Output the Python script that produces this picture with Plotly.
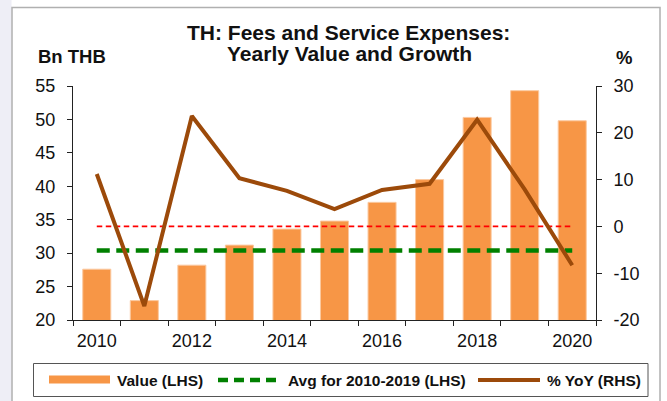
import plotly.graph_objects as go

# ── Data ─────────────────────────────────────────────
YEARS = [2010, 2011, 2012, 2013, 2014, 2015, 2016, 2017, 2018, 2019, 2020]
VALUE_BN = [27.6, 22.9, 28.2, 31.2, 33.6, 34.8, 37.6, 41.0, 50.3, 54.3, 49.8]
YOY_PCT = [11.2, -17.0, 23.6, 10.3, 7.6, 3.7, 7.8, 9.1, 22.8, 7.9, -8.3]
AVG_LEVEL = 30.4          # "Avg for 2010-2019" line as drawn (LHS)
ZERO_LEVEL = 0            # reference line on the RHS
X_LABELS = [2010, 2012, 2014, 2016, 2018, 2020]
Y2_TICKS = [-20, -10, 0, 10, 20, 30]
Y2_TEXT = ["-20", "-10", "0", "10", "20", "30"]

BAR_COLOR = "#F79646"
BAR_EDGE = "#FBC9A0"
LINE_COLOR = "#9C4A0A"
AVG_COLOR = "#008000"
ZERO_COLOR = "#FF0000"
AXIS_COLOR = "#222222"
FONT = "Liberation Sans, Arial, sans-serif"

W, H = 667, 401
L, R, T, B = 73, 71, 86, 81


def px(x):
    """pixel x -> paper fraction"""
    return (x - L) / (W - L - R)


def py(y):
    """pixel y (from top) -> paper fraction"""
    return (H - B - y) / (H - T - B)


fig = go.Figure()

fig.add_trace(go.Bar(
    x=YEARS, y=VALUE_BN, name="Value (LHS)",
    marker=dict(color=BAR_COLOR, line=dict(color=BAR_EDGE, width=1)),
    width=0.59, yaxis="y",
))
fig.add_trace(go.Scatter(
    x=[YEARS[0], YEARS[-1]], y=[AVG_LEVEL, AVG_LEVEL],
    mode="lines", name="Avg for 2010-2019 (LHS)",
    line=dict(color=AVG_COLOR, width=4.5, dash="13px,6.5px"), yaxis="y",
))
fig.add_trace(go.Scatter(
    x=[YEARS[0], YEARS[-1]], y=[ZERO_LEVEL, ZERO_LEVEL],
    mode="lines", showlegend=False,
    line=dict(color=ZERO_COLOR, width=1.6, dash="5.5px,3.5px"), yaxis="y2",
))
fig.add_trace(go.Scatter(
    x=YEARS, y=YOY_PCT, mode="lines", name="% YoY (RHS)",
    line=dict(color=LINE_COLOR, width=4), yaxis="y2",
))

# ── Frame, background stripe and hand-drawn legend ───
shapes = [
    dict(type="rect", xref="paper", yref="paper",
         x0=px(0), x1=px(11.5), y0=py(H + 5), y1=py(-5),
         fillcolor="#EEEEF6", line=dict(width=0), layer="below"),
    dict(type="rect", xref="paper", yref="paper",
         x0=px(12), x1=px(660), y0=py(H + 5), y1=py(7.5),
         fillcolor="rgba(0,0,0,0)", line=dict(color="#B0B0B0", width=1.5)),
    dict(type="rect", xref="paper", yref="paper",
         x0=px(33.5), x1=px(648), y0=py(396.5), y1=py(363.5),
         fillcolor="white", line=dict(color="#555555", width=1)),
    dict(type="rect", xref="paper", yref="paper",
         x0=px(49), x1=px(110), y0=py(383.5), y1=py(375.5),
         fillcolor=BAR_COLOR, line=dict(width=0)),
    dict(type="line", xref="paper", yref="paper",
         x0=px(218), x1=px(282), y0=py(380), y1=py(380),
         line=dict(color=AVG_COLOR, width=4.5, dash="10px,6px")),
    dict(type="line", xref="paper", yref="paper",
         x0=px(478), x1=px(540), y0=py(380), y1=py(380),
         line=dict(color=LINE_COLOR, width=4)),
]

legend_font = dict(family=FONT, size=15.5, color="#111111")
title_font = dict(family=FONT, size=21, color="#111111")
annotations = [
    dict(text="<b>Value (LHS)</b>", x=px(115), y=py(380),
         xanchor="left", yanchor="middle", font=legend_font),
    dict(text="<b>Avg for 2010-2019 (LHS)</b>", x=px(286), y=py(380),
         xanchor="left", yanchor="middle", font=legend_font),
    dict(text="<b>% YoY (RHS)</b>", x=px(545), y=py(380),
         xanchor="left", yanchor="middle", font=legend_font),
    dict(text="<b>TH: Fees and Service Expenses:</b>",
         x=px(348), y=py(33), xanchor="center", yanchor="middle", font=title_font),
    dict(text="<b>Yearly Value and Growth</b>",
         x=px(349), y=py(53), xanchor="center", yanchor="middle", font=title_font),
    dict(text="<b>Bn THB</b>", x=px(36), y=py(56), xanchor="left", yanchor="middle",
         font=dict(family=FONT, size=18.5, color="#111111")),
    dict(text="<b>%</b>", x=px(614), y=py(57), xanchor="left", yanchor="middle",
         font=dict(family=FONT, size=18.5, color="#111111")),
]
for a in annotations:
    a.update(xref="paper", yref="paper", showarrow=False)

fig.update_layout(
    width=W, height=H,
    margin=dict(l=L, r=R, t=T, b=B),
    paper_bgcolor="white",
    plot_bgcolor="white",
    font=dict(family=FONT, size=18, color="#111111"),
    showlegend=False,
    bargap=0.41,
    shapes=shapes,
    annotations=annotations,
    xaxis=dict(
        range=[2009.5, 2020.5],
        tickvals=X_LABELS, ticks="", showgrid=False, zeroline=False,
        showline=True, linecolor=AXIS_COLOR, linewidth=1,
        minor=dict(tickmode="linear", tick0=2009.5, dtick=1,
                   ticks="outside", ticklen=5, tickcolor=AXIS_COLOR, showgrid=False),
        tickfont=dict(size=18), ticklabelstandoff=4,
    ),
    yaxis=dict(
        range=[20, 55], dtick=5, showgrid=False, zeroline=False,
        showline=True, linecolor=AXIS_COLOR, linewidth=1,
        ticks="outside", ticklen=5, tickcolor=AXIS_COLOR,
        tickfont=dict(size=18), ticklabelstandoff=8,
    ),
    yaxis2=dict(
        range=[-20, 30], tickvals=Y2_TICKS, ticktext=Y2_TEXT,
        overlaying="y", side="right",
        showgrid=False, zeroline=False,
        showline=True, linecolor=AXIS_COLOR, linewidth=1,
        ticks="outside", ticklen=5, tickcolor=AXIS_COLOR,
        tickfont=dict(size=18), ticklabelstandoff=8,
    ),
)

# page body margin would otherwise push the figure 8px right/down
fig.write_html(
    "out.html",
    config={"displayModeBar": False},
    post_script="document.body.style.margin = '0';",
)
